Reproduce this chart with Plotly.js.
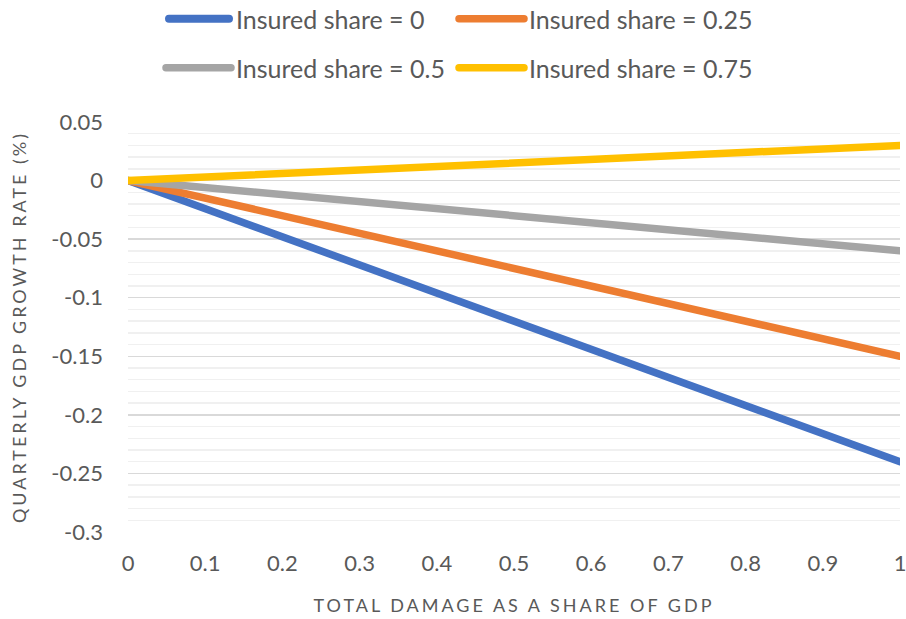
<!DOCTYPE html>
<html>
<head>
<meta charset="utf-8">
<script src="https://cdn.plot.ly/plotly-3.0.1.min.js"></script>
<style>
html,body{margin:0;padding:0;background:#fff;}
#chart{width:906px;height:619px;}
.js-line, .scatterlayer path.js-line { stroke-linecap: round; }
text.xtitle, text.ytitle { letter-spacing: 3px; }
</style>
</head>
<body>
<div id="chart"></div>
<script>
const damageShare = [0, 0.1, 0.2, 0.3, 0.4, 0.5, 0.6, 0.7, 0.8, 0.9, 1];
const insured0    = [0, -0.024, -0.048, -0.072, -0.096, -0.12, -0.144, -0.168, -0.192, -0.216, -0.24];
const insured025  = [0, -0.015, -0.03, -0.045, -0.06, -0.075, -0.09, -0.105, -0.12, -0.135, -0.15];
const insured05   = [0, -0.006, -0.012, -0.018, -0.024, -0.03, -0.036, -0.042, -0.048, -0.054, -0.06];
const insured075  = [0, 0.003, 0.006, 0.009, 0.012, 0.015, 0.018, 0.021, 0.024, 0.027, 0.03];
const seriesNames = ['Insured share = 0', 'Insured share = 0.25', 'Insured share = 0.5', 'Insured share = 0.75'];
const yTickVals = [0.05, 0, -0.05, -0.1, -0.15, -0.2, -0.25, -0.3];
const yTickText = ['0.05', '0', '-0.05', '-0.1', '-0.15', '-0.2', '-0.25', '-0.3'];
const xTickVals = [0, 0.1, 0.2, 0.3, 0.4, 0.5, 0.6, 0.7, 0.8, 0.9, 1];
const xTickText = ['0', '0.1', '0.2', '0.3', '0.4', '0.5', '0.6', '0.7', '0.8', '0.9', '1'];

const colors = ['#4472C4', '#ED7D31', '#A5A5A5', '#FFC000'];
const ys = [insured0, insured025, insured05, insured075];
const legendIds = ['legend', 'legend2', 'legend3', 'legend4'];
const legendPos = [[161, 19], [454, 19], [161, 68], [454, 68]];

const traces = [0, 1, 2, 3].map(i => ({
  x: damageShare, y: ys[i], name: seriesNames[i], type: 'scatter', mode: 'lines',
  line: {color: colors[i], width: 7.5},
  legend: legendIds[i], hoverinfo: 'skip'
}));

const font = 'Lato, "Open Sans", sans-serif';

const layout = {
  width: 906, height: 619,
  margin: {l: 128, r: 6, t: 122, b: 87},
  paper_bgcolor: '#fff', plot_bgcolor: '#fff',
  font: {family: font, color: '#595959'},
  showlegend: true,
  xaxis: {
    range: [0, 1], tickvals: xTickVals, ticktext: xTickText,
    showgrid: false, zeroline: false, showline: false, ticks: '',
    tickfont: {family: font, size: 22, color: '#595959'},
    ticklabelstandoff: 16, ticklabeloverflow: 'allow',
    title: {text: 'TOTAL DAMAGE AS A SHARE OF GDP', font: {family: font, size: 18, color: '#595959'}, standoff: 24}
  },
  yaxis: {
    range: [-0.3, 0.05], tickvals: yTickVals, ticktext: yTickText,
    showgrid: true, gridcolor: '#d9d9d9', gridwidth: 1.5,
    zeroline: false, showline: false, ticks: '',
    minor: {dtick: 0.01, tick0: 0, showgrid: true, gridcolor: '#f0f0f0', gridwidth: 1.5},
    tickfont: {family: font, size: 22, color: '#595959'},
    ticklabelstandoff: 24,
    title: {text: 'QUARTERLY GDP GROWTH RATE (%)', font: {family: font, size: 18, color: '#595959'}, standoff: 20}
  }
};

legendIds.forEach((id, i) => {
  layout[id] = {
    orientation: 'h', xref: 'container', yref: 'container',
    xanchor: 'left', yanchor: 'middle',
    x: legendPos[i][0] / 906, y: 1 - legendPos[i][1] / 619,
    font: {family: font, size: 25, color: '#595959'},
    bgcolor: 'rgba(0,0,0,0)', itemwidth: 65
  };
});

function stretchLegendLines() {
  document.querySelectorAll('#chart .legend .legendlines path.js-line').forEach(p => {
    p.setAttribute('d', 'M8,0h60');
    p.style.strokeLinecap = 'round';
    p.style.strokeWidth = '8px';
  });
}

Plotly.newPlot('chart', traces, layout, {staticPlot: true}).then(stretchLegendLines);
</script>
</body>
</html>
